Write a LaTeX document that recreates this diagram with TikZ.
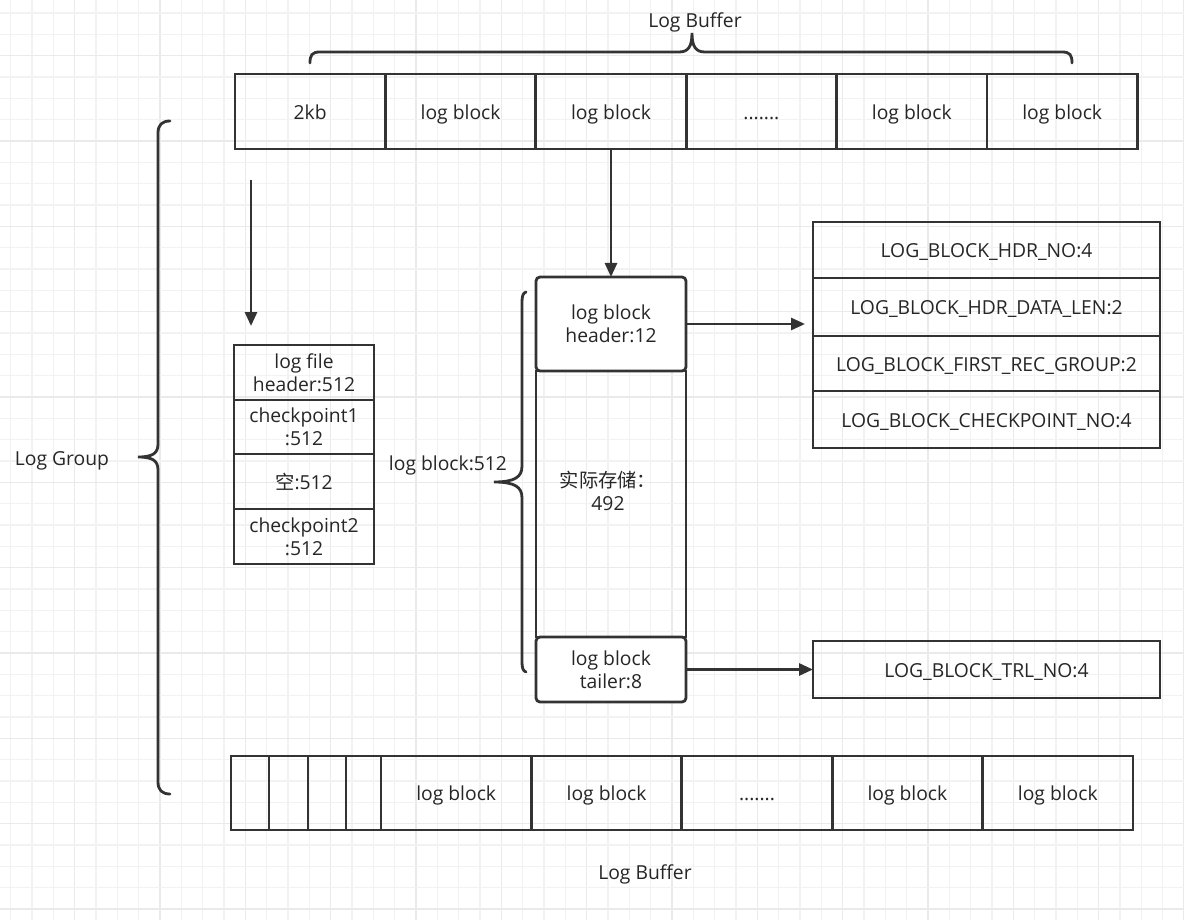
\documentclass[tikz,border=0pt]{standalone}
\usepackage{fontspec}
\setmainfont{Open Sans}
\newfontfamily\cjk{Noto Sans CJK SC}
\usetikzlibrary{arrows.meta}
\definecolor{ink}{HTML}{333333}
\definecolor{txt}{HTML}{262626}
\definecolor{gridminor}{HTML}{F2F2F2}
\definecolor{gridmajor}{HTML}{EAEAEA}
\tikzset{
  box/.style={draw=ink, line width=2.8pt, inner sep=0pt, outer sep=0pt, align=center, text=txt, font=\fontsize{19.3}{23}\selectfont},
  one/.style={text height=20pt, text depth=4.5pt},
  rbox/.style={box, rounded corners=4pt},
  lbl/.style={text=txt, inner sep=0pt, font=\fontsize{19.3}{23}\selectfont, text height=20pt, text depth=4.5pt},
  conn/.style={draw=ink, line width=2.8pt, -{Triangle[length=14pt,width=12pt]}},
  brace/.style={draw=ink, line width=2.8pt, line cap=round}
}
\begin{document}
\begin{tikzpicture}[x=1pt,y=-1pt]
\useasboundingbox (0,0) rectangle (1184,920);
\fill[white] (0,0) rectangle (1184,920);
% grid
\foreach \i in {0,...,55}{
  \pgfmathsetmacro\xx{10.7+21.333*\i}
  \pgfmathtruncatemacro\m{mod(\i,4)}
  \ifnum\m=3 \draw[gridmajor,line width=1.2pt] (\xx,0) -- (\xx,920);
  \else \draw[gridminor,line width=1.2pt] (\xx,0) -- (\xx,920); \fi
}
\foreach \j in {0,...,42}{
  \pgfmathsetmacro\yy{13+21.333*\j}
  \pgfmathtruncatemacro\m{mod(\j,4)}
  \ifnum\m=2 \draw[gridmajor,line width=1.2pt] (0,\yy) -- (1184,\yy);
  \else \draw[gridminor,line width=1.2pt] (0,\yy) -- (1184,\yy); \fi
}

% top row
\node[box, one, minimum width=150.4pt, minimum height=75pt] (t1) at (310.2,111.5) {2kb};
\node[box, one, minimum width=150.4pt, minimum height=75pt] (t2) at (460.6,111.5) {log block};
\node[box, one, minimum width=150.4pt, minimum height=75pt] (t3) at (611.0,111.5) {log block};
\node[box, one, minimum width=150.4pt, minimum height=75pt] (t4) at (761.4,111.5) {.......};
\node[box, one, minimum width=150.4pt, minimum height=75pt] (t5) at (911.8,111.5) {log block};
\node[box, one, minimum width=150.4pt, minimum height=75pt] (t6) at (1062.2,111.5) {log block};

% top brace + label
\draw[brace] (310,63) .. controls (310,55) and (312,52) .. (320,52) -- (679,52)
  .. controls (688,52) and (692,47) .. (692,33)
  .. controls (692,47) and (696,52) .. (705,52) -- (1062,52)
  .. controls (1070,52) and (1072,55) .. (1072,63);
\node[lbl] (lbtop) at (695,20) {Log Buffer};

% Log Group brace
\draw[brace] (170,121) .. controls (162,121) and (158,125) .. (158,133) -- (158,444)
  .. controls (158,453) and (153,457) .. (138,457)
  .. controls (153,457) and (158,461) .. (158,470) -- (158,782)
  .. controls (158,790) and (162,794) .. (170,794);
\node[lbl] (lgroup) at (62,458) {Log Group};

% left stack
\node[box, minimum width=140pt, minimum height=55pt] (s1) at (304,372.5) {log file\\header:512};
\node[box, minimum width=140pt, minimum height=54pt] (s2) at (304,427) {checkpoint1\\:512};
\node[box, one, minimum width=140pt, minimum height=55pt] (s3) at (304,481.5) {{\cjk 空}:512};
\node[box, minimum width=140pt, minimum height=55pt] (s4) at (304,536.5) {checkpoint2\\:512};

\coordinate (a1s) at (251,180);
\coordinate (a1e) at (251,326);
\draw[conn] (a1s) -- (a1e);

% middle column
\node[box, minimum width=150pt, minimum height=266pt] (mid) at (611,504) {};
\node[rbox, fill=white, minimum width=150pt, minimum height=94pt] (hdr) at (611,324) {log block\\header:12};
\node[rbox, fill=white, minimum width=150pt, minimum height=65pt] (tail) at (611,669.5) {log block\\tailer:8};
\node[text=txt, inner sep=0pt, font=\fontsize{19.3}{23}\selectfont, align=center] (midtxt) at (608,491) {{\cjk 实际存储：}\\492};

\draw[conn] (t3.south) -- (hdr.north);

% middle brace
\draw[brace] (526,292) .. controls (523,293) and (522,296) .. (522,302) -- (522,466)
  .. controls (522,477) and (515,482) .. (494,482)
  .. controls (515,482) and (522,487) .. (522,498) -- (522,662)
  .. controls (522,668) and (523,671) .. (526,672);
\node[lbl] (lb512) at (448,463) {log block:512};

% right boxes
\node[box, one, minimum width=347pt, minimum height=56pt] (r1) at (986.5,250) {LOG\_BLOCK\_HDR\_NO:4};
\node[box, one, minimum width=347pt, minimum height=58pt] (r2) at (986.5,307) {LOG\_BLOCK\_HDR\_DATA\_LEN:2};
\node[box, one, minimum width=347pt, minimum height=55pt] (r3) at (986.5,363.5) {LOG\_BLOCK\_FIRST\_REC\_GROUP:2};
\node[box, one, minimum width=347pt, minimum height=57pt] (r4) at (986.5,419.5) {LOG\_BLOCK\_CHECKPOINT\_NO:4};
\node[box, one, minimum width=347pt, minimum height=57pt] (trl) at (986.5,669.5) {LOG\_BLOCK\_TRL\_NO:4};

\draw[conn, shorten >=8pt] (hdr.east) -- (hdr.east -| r2.west);
\draw[conn] (tail.east) -- (tail.east -| trl.west);

% bottom row
\node[box, minimum width=38pt, minimum height=74pt] (b1) at (250,793) {};
\node[box, minimum width=39pt, minimum height=74pt] (b2) at (288.5,793) {};
\node[box, minimum width=38pt, minimum height=74pt] (b3) at (327,793) {};
\node[box, minimum width=35pt, minimum height=74pt] (b4) at (363.5,793) {};
\node[box, one, minimum width=150.4pt, minimum height=74pt] (b5) at (456.2,793) {log block};
\node[box, one, minimum width=150.4pt, minimum height=74pt] (b6) at (606.6,793) {log block};
\node[box, one, minimum width=150.4pt, minimum height=74pt] (b7) at (757.0,793) {.......};
\node[box, one, minimum width=150.4pt, minimum height=74pt] (b8) at (907.4,793) {log block};
\node[box, one, minimum width=150.4pt, minimum height=74pt] (b9) at (1057.8,793) {log block};
\node[lbl] (lbbot) at (645,872) {Log Buffer};
\end{tikzpicture}
\end{document}
